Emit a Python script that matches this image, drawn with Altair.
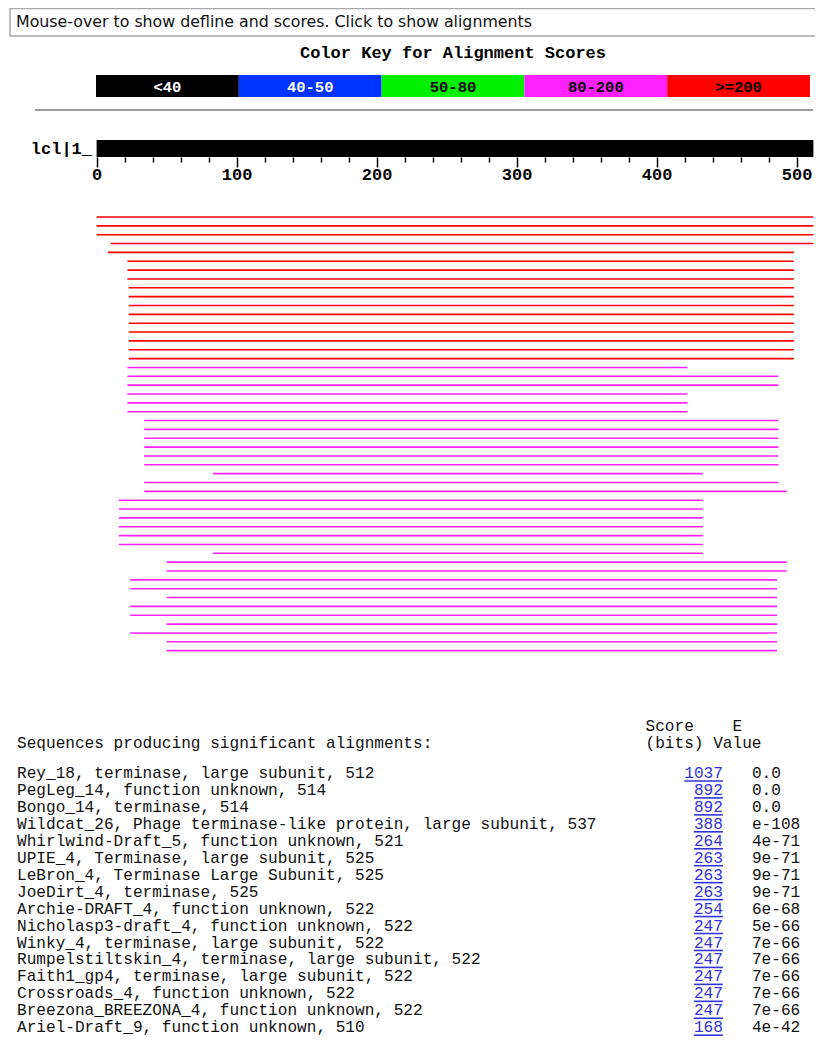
import altair as alt
import pandas as pd

# ---------------- data ----------------
header_text = "Mouse-over to show defline and scores. Click to show alignments"

key_title = "Color Key for Alignment Scores"
key_labels = ["<40", "40-50", "50-80", "80-200", ">=200"]
key_colors = ["#000000", "#0033ff", "#00f000", "#ff22ff", "#ff0000"]
key_text_colors = ["#ffffff", "#ffffff", "#000000", "#000000", "#000000"]

query_name = "lcl|1_"
query_length = 512
axis_ticks = list(range(0, 501, 20))

hit_start = [0, 0, 0, 10, 8, 22, 22, 22, 23, 23, 23, 23, 23, 23, 23, 23, 23,
             22, 22, 22, 22, 22, 22,
             34, 34, 34, 34, 34, 34,
             83, 34, 34,
             16, 16, 16, 16, 16, 16,
             83, 50, 50,
             24, 24, 50, 24, 24, 50, 24, 50, 50]
hit_end = [512, 512, 512, 512, 498, 498, 498, 498, 498, 498, 498, 498, 498, 498, 498, 498, 498,
           422, 487, 487, 422, 422, 422,
           487, 487, 487, 487, 487, 487,
           433, 487, 493,
           433, 433, 433, 433, 433, 433,
           433, 493, 493,
           486, 486, 486, 486, 486, 486, 486, 486, 486]
hit_bin = [">=200"] * 17 + ["80-200"] * 33

seq_names = [
    "Rey_18, terminase, large subunit, 512",
    "PegLeg_14, function unknown, 514",
    "Bongo_14, terminase, 514",
    "Wildcat_26, Phage terminase-like protein, large subunit, 537",
    "Whirlwind-Draft_5, function unknown, 521",
    "UPIE_4, Terminase, large subunit, 525",
    "LeBron_4, Terminase Large Subunit, 525",
    "JoeDirt_4, terminase, 525",
    "Archie-DRAFT_4, function unknown, 522",
    "Nicholasp3-draft_4, function unknown, 522",
    "Winky_4, terminase, large subunit, 522",
    "Rumpelstiltskin_4, terminase, large subunit, 522",
    "Faith1_gp4, terminase, large subunit, 522",
    "Crossroads_4, function unknown, 522",
    "Breezona_BREEZONA_4, function unknown, 522",
    "Ariel-Draft_9, function unknown, 510",
]
seq_scores = ["1037", "892", "892", "388", "264", "263", "263", "263", "254",
              "247", "247", "247", "247", "247", "247", "168"]
seq_evalues = ["0.0", "0.0", "0.0", "e-108", "4e-71", "9e-71", "9e-71", "9e-71", "6e-68",
               "5e-66", "7e-66", "7e-66", "7e-66", "7e-66", "7e-66", "4e-42"]

# ---------------- styling ----------------
MONO = "Liberation Mono"
SANS = "DejaVu Sans"
W = 807
one = alt.Data(values=[{}])

# ---------------- panel 1: header box ----------------
p1_box = alt.Chart(one).mark_rect(fill="white", stroke="#a8a8a8", strokeWidth=1.5, clip=True).encode(
    x=alt.value(2), x2=alt.value(840), y=alt.value(0.5), y2=alt.value(28)
)
p1_text = alt.Chart(one).mark_text(
    text=header_text, font=SANS, fontSize=15.8, align="left", baseline="middle", color="#111111"
).encode(x=alt.value(8), y=alt.value(13.5))
p1 = alt.layer(p1_box, p1_text).properties(width=W, height=36)

# ---------------- panel 2: colour key ----------------
key_df = pd.DataFrame({"label": key_labels, "fill": key_colors, "tcolor": key_text_colors})
key_df["i"] = range(len(key_df))
kx = alt.Scale(domain=[0, 5], range=[88, 802])
key_base = alt.Chart(key_df).transform_calculate(i2="datum.i + 1", mid="datum.i + 0.5")
key_rect = key_base.mark_rect().encode(
    x=alt.X("i:Q", scale=kx, axis=None), x2="i2:Q",
    y=alt.value(31), y2=alt.value(53),
    fill=alt.Fill("fill:N", scale=None),
)
key_text = key_base.mark_text(font=MONO, fontWeight="bold", fontSize=15.5, baseline="middle").encode(
    x=alt.X("mid:Q", scale=kx, axis=None), y=alt.value(42.5),
    text="label:N", color=alt.Color("tcolor:N", scale=None),
)
key_title_mark = alt.Chart(one).mark_text(
    text=key_title, font=MONO, fontWeight="bold", fontSize=17, baseline="middle", color="black"
).encode(x=alt.XDatum(2.5, type="quantitative", scale=kx, axis=None), y=alt.value(8.5))
key_rule = alt.Chart(one).mark_rule(color="#7a7a7a", strokeWidth=1.5).encode(
    x=alt.value(27), x2=alt.value(805), y=alt.value(66)
)
p2 = alt.layer(key_rect, key_text, key_title_mark, key_rule).properties(width=W, height=76)

# ---------------- panel 3: query bar with axis ----------------
qx = alt.Scale(domain=[0, 500], range=[88.6, 788.6])
q_df = pd.DataFrame({"name": [query_name], "start": [0], "end": [query_length]})
q_axis = alt.Axis(
    values=axis_ticks, domain=False, grid=False, title=None,
    tickColor="black", tickWidth=1.5,
    tickSize={"condition": {"test": "datum.value % 100 === 0", "value": 10}, "value": 5},
    labelExpr="datum.value % 100 === 0 ? datum.label : ''",
    labelFont=MONO, labelFontWeight="bold", labelFontSize=17, labelColor="black",
    labelPadding=-1, labelFlush=False, labelOverlap=False, labelBound=False,
)
q_bar = alt.Chart(q_df).mark_rect(color="black").encode(
    x=alt.X("start:Q", scale=qx, axis=q_axis), x2="end:Q",
    y=alt.value(20), y2=alt.value(37),
)
q_label = alt.Chart(q_df).mark_text(
    font=MONO, fontWeight="bold", fontSize=17, align="right", baseline="middle", color="black"
).encode(x=alt.value(84), y=alt.value(28.5), text="name:N")
p3 = alt.layer(q_bar, q_label).properties(width=W, height=37)

# ---------------- panel 4: alignment lines ----------------
hits = pd.DataFrame({"start": hit_start, "end": hit_end, "bin": hit_bin})
hits["row"] = range(len(hits))
p4 = alt.Chart(hits).mark_rule(strokeWidth=1.6).encode(
    x=alt.X("start:Q", scale=qx, axis=None), x2="end:Q",
    y=alt.Y("row:Q", scale=alt.Scale(domain=[0, 49], range=[60, 493.65]), axis=None),
    color=alt.Color("bin:N", scale=alt.Scale(domain=key_labels, range=key_colors), legend=None),
).properties(width=W, height=553)

# ---------------- panel 5: table ----------------
tab = pd.DataFrame({"name": seq_names, "score": seq_scores, "evalue": seq_evalues})
tab["row"] = range(len(tab))
tx = alt.Scale(domain=[0, 80], range=[9, 782.6])
ty = alt.Scale(domain=[0, 15], range=[63, 317.25])
TXT = dict(font=MONO, fontSize=16.1, baseline="middle")

def head(label, col, row, align="left"):
    return alt.Chart(one).mark_text(text=label, align=align, color="#111111", **TXT).encode(
        x=alt.XDatum(col, type="quantitative", scale=tx, axis=None),
        y=alt.YDatum(row, type="quantitative", scale=ty, axis=None),
    )

h1 = head("Score", 65, -2.75)
h2 = head("E", 74, -2.75)
h3 = head("(bits) Value", 65, -1.75)
h4 = head("Sequences producing significant alignments:", 0, -1.75)

tbase = alt.Chart(tab)
t_names = tbase.mark_text(align="left", color="#111111", **TXT).encode(
    x=alt.XDatum(0, type="quantitative", scale=tx, axis=None),
    y=alt.Y("row:Q", scale=ty, axis=None), text="name:N",
)
t_scores = tbase.mark_text(align="right", color="#3333dd", **TXT).encode(
    x=alt.XDatum(73, type="quantitative", scale=tx, axis=None),
    y=alt.Y("row:Q", scale=ty, axis=None), text="score:N",
)
t_ul = tbase.transform_calculate(
    u0="73 - length(datum.score)", u1="73", uy="datum.row + 0.47"
).mark_rule(color="#3333dd", strokeWidth=1.6).encode(
    x=alt.X("u0:Q", scale=tx, axis=None), x2="u1:Q",
    y=alt.Y("uy:Q", scale=ty, axis=None),
)
t_e = tbase.mark_text(align="left", color="#111111", **TXT).encode(
    x=alt.XDatum(76, type="quantitative", scale=tx, axis=None),
    y=alt.Y("row:Q", scale=ty, axis=None), text="evalue:N",
)
p5 = alt.layer(h1, h2, h3, h4, t_names, t_scores, t_ul, t_e).properties(width=W, height=326)

chart = alt.vconcat(p1, p2, p3, p4, p5, spacing=0, bounds="flush").properties(
    padding=0
).configure_view(stroke=None)

chart.save("out.html", embed_options={"renderer": "svg", "actions": False})
